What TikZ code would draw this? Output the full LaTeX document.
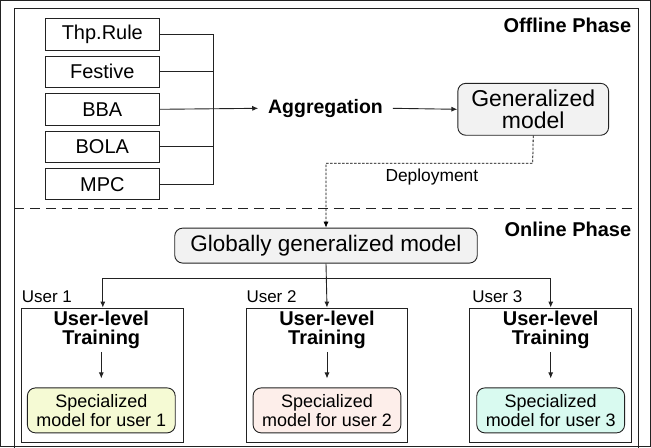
\documentclass[tikz,border=0pt]{standalone}
\usepackage{fontspec}
\setmainfont{Liberation Sans}
\usetikzlibrary{arrows.meta}
\definecolor{grayfill}{HTML}{F2F2F2}
\definecolor{yelfill}{HTML}{F5FAD4}
\definecolor{pinkfill}{HTML}{FDEEEA}
\definecolor{cyanfill}{HTML}{D9FAF0}
\definecolor{linec}{HTML}{222222}
\begin{document}
\begin{tikzpicture}[x=1pt,y=-1pt,
  every path/.style={draw=linec,line width=0.9pt},
  tip/.style={-{Latex[length=6pt,width=5pt]}},
  srcbox/.style={draw=linec,line width=0.9pt,minimum width=114pt,minimum height=31.5pt,inner sep=0pt,font=\fontsize{20}{22}\selectfont},
  rbox/.style={draw=linec,line width=0.9pt,rounded corners=8pt,fill=grayfill,inner sep=0pt,align=center},
  ubox/.style={draw=linec,line width=0.9pt,minimum width=162pt,minimum height=135pt,inner sep=0pt},
  spbox/.style={draw=linec,line width=0.9pt,rounded corners=8pt,minimum width=148pt,minimum height=45pt,inner sep=0pt,align=center,font=\fontsize{18}{19}\selectfont},
  trtext/.style={align=center,inner sep=0pt,font=\bfseries\fontsize{20}{19}\selectfont},
  ulabel/.style={anchor=west,inner sep=0pt,font=\fontsize{17}{19}\selectfont},
  phase/.style={anchor=east,inner sep=0pt,font=\bfseries\fontsize{20}{22}\selectfont}]
\useasboundingbox (0,0) rectangle (651,447);
% frame
\draw (14,8) rectangle (639,452);
% offline phase
\node[phase] (offl) at (632,25) {Offline Phase};
\node[srcbox] (thp) at (102,34) {Thp.Rule};
\node[srcbox] (fes) at (102,71.5) {Festive};
\node[srcbox] (bba) at (102,109) {BBA};
\node[srcbox] (bola) at (102,146.5) {BOLA};
\node[srcbox] (mpc) at (102,184) {MPC};
\coordinate (bus) at (213,0);
\draw (thp.east) -- (thp.east -| bus) -- (mpc.east -| bus) -- (mpc.east);
\draw (fes.east) -- (fes.east -| bus);
\draw (bola.east) -- (bola.east -| bus);
\node[inner xsep=9.5pt,inner ysep=0pt,font=\bfseries\fontsize{19.5}{22}\selectfont] (agg) at (325.5,108) {Aggregation};
\draw[tip] (bba.east) -- (agg.west);
\node[rbox,minimum width=151pt,minimum height=52pt,font=\fontsize{23}{23}\selectfont] (gen) at (533.5,109) {Generalized\\model};
\draw[tip] (agg.east) -- (gen.west);
% divider
\draw[dash pattern=on 10pt off 6pt,line width=1.2pt] (14,208) -- (639,208);
% online phase
\node[phase] (onl) at (632,229) {Online Phase};
\node[rbox,minimum width=303pt,minimum height=35pt,font=\fontsize{22.5}{24}\selectfont] (glob) at (326,245.5) {Globally generalized model};
\coordinate (dep) at (533,163);
\draw[tip,dash pattern=on 2.5pt off 1.5pt,line width=0.8pt,draw=black] (gen.south) -- (dep) -| (glob.north);
\node[inner sep=0pt,font=\fontsize{17.4}{19}\selectfont] (deplab) at (432,177) {Deployment};
% users
\node[ubox] (u1) at (102.5,375.5) {};
\node[ubox] (u2) at (327,375.5) {};
\node[ubox] (u3) at (551,375.5) {};
\coordinate (hb) at (327,278);
\draw[tip] (glob.south) -- (u2.north);
\draw[tip] (hb) -| (u1.north);
\draw[tip] (hb) -| (u3.north);
\node[ulabel] (l1) at (21,297) {User 1};
\node[ulabel] (l2) at (246,297) {User 2};
\node[ulabel] (l3) at (472,297) {User 3};
\foreach \u/\x/\c/\n in {u1/101/yelfill/1,u2/327/pinkfill/2,u3/551/cyanfill/3}{
  \node[trtext] (tr\n) at (\x,330) {User-level\\Training};
  \node[spbox,fill=\c] (sp\n) at (\x,410.5) {Specialized\\model for user \n};
  \draw[tip] (\x,352) -- (sp\n.north) [shorten >=9pt];
}
\end{tikzpicture}
\end{document}
